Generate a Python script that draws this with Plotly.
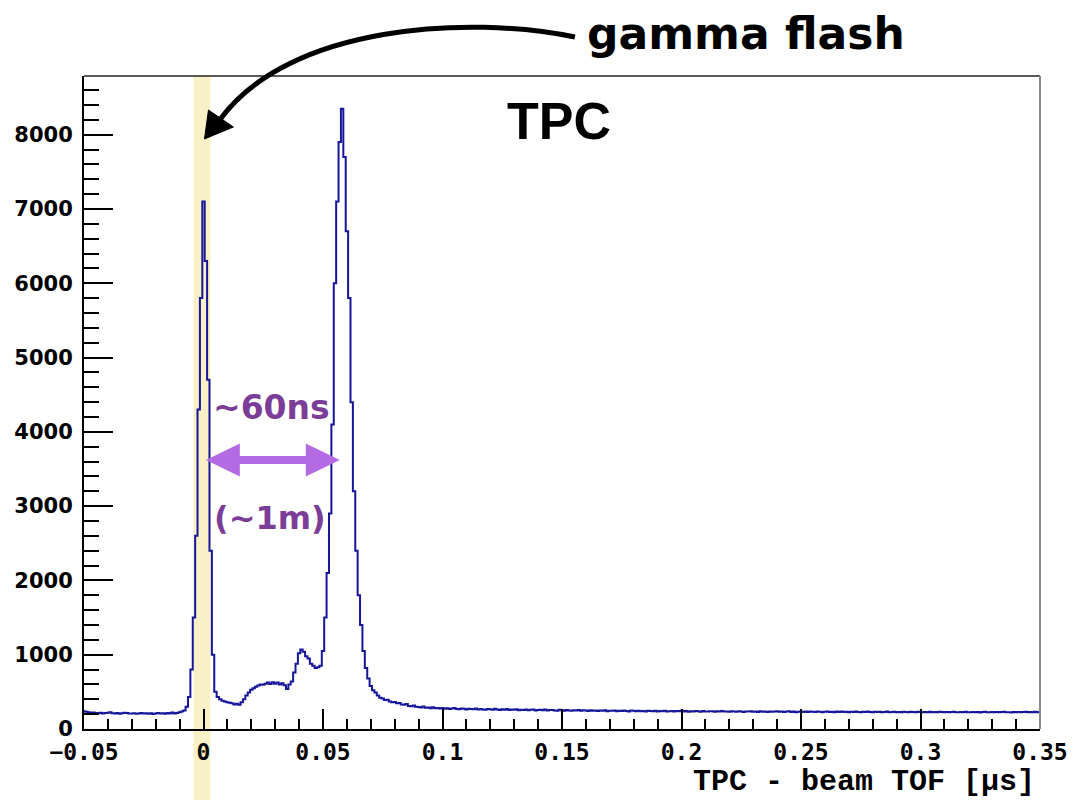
import plotly.graph_objects as go

# ---------------- data (counts per 0.001 us bin) ----------------
BIN_WIDTH = 0.001
X_RANGE = [-0.05, 0.35]
Y_RANGE = [0, 8790]

pre_flash_start = -0.050
pre_flash = [240, 232, 225, 218, 222, 215, 212, 220, 210, 214,
             218, 226, 212, 208, 216, 205, 211, 219, 214, 209,
             207, 213, 204, 210, 216, 208, 212, 206, 211, 203,
             209, 214, 207, 212, 205, 216, 210, 222, 208, 215]

gamma_start = -0.010
gamma = [225, 235, 250, 300, 430, 800, 1500, 2600, 4300, 5800,
         7100, 6300, 4700, 2400, 1000, 500, 430, 400, 380]

shoulder_start = 0.009
shoulder = [370, 360, 355, 345, 330, 340, 325, 360, 400, 450,
            490, 530, 550, 570, 585, 600, 595, 610, 625, 605,
            630, 610, 625, 600, 615, 590, 540, 600, 640, 760,
            880, 1020, 1070, 1040, 980, 950, 880, 850, 820, 830,
            850, 1050]

main_peak_start = 0.051
main_peak = [1500, 2100, 2900, 4100, 6000, 7100, 7900, 8350, 7700, 6700,
             5800, 4400, 3200, 2400, 1800, 1400, 1050, 820, 680, 580,
             520, 490, 450, 420, 410, 390, 395, 370, 360, 365,
             345, 350, 330, 325, 335, 310, 305, 318, 300, 296,
             290, 302, 285, 288, 280, 292, 278, 283, 276, 281]

tail_start = 0.101
tail = [272, 279, 268, 275, 283, 270, 266, 277, 271, 262,
        274, 268, 265, 276, 261, 270, 264, 258, 269, 266,
        260, 271, 263, 257, 266, 259, 268, 255, 262, 258,
        265, 254, 260, 257, 263, 251, 258, 262, 249, 256,
        259, 252, 261, 248, 255, 257, 250, 246, 258, 252,
        247, 255, 250, 244, 253, 249, 257, 245, 251, 248,
        243, 252, 246, 250, 241, 249, 245, 253, 240, 247,
        244, 250, 238, 246, 243, 249, 241, 237, 248, 244,
        240, 246, 239, 243, 236, 245, 241, 238, 247, 235,
        242, 239, 245, 236, 240, 243, 234, 241, 238, 244,
        237, 242, 233, 240, 236, 243, 238, 232, 241, 237,
        235, 240, 238, 231, 239, 236, 242, 234, 237, 233,
        240, 235, 231, 238, 236, 229, 237, 234, 240, 232,
        236, 230, 238, 233, 235, 228, 237, 232, 234, 239,
        231, 236, 229, 234, 238, 230, 235, 227, 233, 236,
        230, 234, 228, 237, 232, 229, 235, 231, 226, 233,
        236, 229, 232, 227, 234, 230, 235, 228, 231, 226,
        233, 229, 236, 230, 227, 232, 228, 234, 230, 225,
        231, 228, 233, 226, 230, 234, 227, 229, 232, 225,
        230, 227, 233, 228, 224, 231, 229, 226, 232, 228,
        225, 230, 227, 232, 226, 229, 224, 231, 228, 226,
        230, 225, 228, 233, 227, 224, 229, 226, 231, 227,
        224, 229, 226, 230, 223, 228, 232, 225, 227, 229,
        226, 230, 224, 228, 231, 225, 227, 223, 229, 226,
        230, 225, 228, 232, 226, 229, 224, 231, 227, 230]

x_tickvals = [-0.05, 0, 0.05, 0.1, 0.15, 0.2, 0.25, 0.3, 0.35]
x_ticktext = ["\u22120.05", "0", "0.05", "0.1", "0.15", "0.2", "0.25", "0.3", "0.35"]
y_tickvals = [0, 1000, 2000, 3000, 4000, 5000, 6000, 7000, 8000]

segments = [(pre_flash_start, pre_flash), (gamma_start, gamma),
            (shoulder_start, shoulder), (main_peak_start, main_peak),
            (tail_start, tail)]

x_edges, counts = [], []
for start, vals in segments:
    for i, v in enumerate(vals):
        x_edges.append(round(start + i * BIN_WIDTH - BIN_WIDTH / 2, 6))
        counts.append(v)
x_edges.append(x_edges[-1] + BIN_WIDTH)
counts.append(counts[-1])

# ---------------- layout geometry ----------------
W, H = 1080, 800
ML, MR, MT, MB = 84, 36, 76, 71
PW, PH = W - ML - MR, H - MT - MB


def px(xp):
    return (xp - ML) / PW


def py(yp):
    return (H - MB - yp) / PH


def dx(v):
    return (v - X_RANGE[0]) / (X_RANGE[1] - X_RANGE[0])


fig = go.Figure()
fig.add_trace(go.Scatter(x=x_edges, y=counts, mode="lines",
                         line=dict(shape="hv", color="#16169a", width=2),
                         hoverinfo="skip", showlegend=False))

shapes = []
# yellow gamma-flash band
shapes.append(dict(type="rect", xref="paper", yref="paper",
                   x0=dx(-0.0042), x1=dx(0.0029), y0=py(800), y1=1.0,
                   fillcolor="#f9f0c6", line=dict(width=0), layer="below"))
# frame top / right
shapes.append(dict(type="line", xref="paper", yref="paper", x0=0, x1=1, y0=1, y1=1,
                   line=dict(color="#222222", width=1.5)))
shapes.append(dict(type="line", xref="paper", yref="paper", x0=1, x1=1, y0=0, y1=1,
                   line=dict(color="#888888", width=2)))
# curved black arrow
shapes.append(dict(type="path", xref="paper", yref="paper",
                   path=f"M {px(577)},{py(37)} C {px(470)},{py(15)} {px(290)},{py(25)} {px(221)},{py(119)}",
                   line=dict(color="black", width=5)))
shapes.append(dict(type="path", xref="paper", yref="paper",
                   path=f"M {px(205)},{py(139)} L {px(209)},{py(110)} L {px(234)},{py(127)} Z",
                   fillcolor="black", line=dict(color="black", width=1)))
# double purple arrow (data coordinates)
ax0, ax1, ay = 0.0010, 0.0570, 3620
hl, hh, sh = 0.0142, 222, 54
arrow_path = (f"M {ax0},{ay} L {ax0+hl},{ay+hh} L {ax0+hl},{ay+sh} L {ax1-hl},{ay+sh} "
              f"L {ax1-hl},{ay+hh} L {ax1},{ay} L {ax1-hl},{ay-hh} L {ax1-hl},{ay-sh} "
              f"L {ax0+hl},{ay-sh} L {ax0+hl},{ay-hh} Z")
shapes.append(dict(type="path", xref="x", yref="y", path=arrow_path,
                   fillcolor="#b36ae2", line=dict(width=0)))

annotations = [
    dict(text="<b>gamma flash</b>", xref="paper", yref="paper", x=px(749), y=py(33),
         xanchor="center", yanchor="middle", showarrow=False,
         font=dict(family="DejaVu Sans", size=44, color="black")),
    dict(text="<b>TPC</b>", xref="paper", yref="paper", x=px(561), y=py(121),
         xanchor="center", yanchor="middle", showarrow=False,
         font=dict(family="Liberation Sans", size=52, color="black")),
    dict(text="<b>~60ns</b>", xref="paper", yref="paper", x=px(272), y=py(407),
         xanchor="center", yanchor="middle", showarrow=False,
         font=dict(family="DejaVu Sans", size=33, color="#7b3d98")),
    dict(text="<b>(~1m)</b>", xref="paper", yref="paper", x=px(271), y=py(518),
         xanchor="center", yanchor="middle", showarrow=False,
         font=dict(family="DejaVu Sans", size=32, color="#7b3d98")),
    dict(text="<b>TPC - beam TOF [\u03bcs]</b>", xref="paper", yref="paper", x=px(1041), y=py(782),
         xanchor="right", yanchor="middle", showarrow=False,
         font=dict(family="Liberation Mono", size=30, color="black")),
]

fig.update_layout(
    width=W, height=H,
    margin=dict(l=ML, r=MR, t=MT, b=MB, pad=0),
    paper_bgcolor="white", plot_bgcolor="white",
    shapes=shapes, annotations=annotations,
    xaxis=dict(range=X_RANGE, showgrid=False, zeroline=False,
               showline=True, linecolor="black", linewidth=2,
               tickmode="array", tickvals=x_tickvals, ticktext=x_ticktext,
               ticks="inside", ticklen=20, tickwidth=1.5, tickcolor="black",
               ticklabelstandoff=1,
               tickfont=dict(family="DejaVu Sans Mono", size=23, color="black", weight="bold"),
               minor=dict(ticks="inside", ticklen=10, tickwidth=1.5, tickcolor="black", dtick=0.01,
                          tick0=0, showgrid=False)),
    yaxis=dict(range=Y_RANGE, showgrid=False, zeroline=False,
               showline=True, linecolor="black", linewidth=2,
               tickmode="array", tickvals=y_tickvals,
               ticks="inside", ticklen=29, tickwidth=1.5, tickcolor="black",
               ticklabelstandoff=5,
               tickfont=dict(family="DejaVu Sans", size=21, color="black", weight="bold"),
               minor=dict(ticks="inside", ticklen=15, tickwidth=1.5, tickcolor="black", dtick=200,
                          tick0=0, showgrid=False)),
)

fig.write_html("out.html")
